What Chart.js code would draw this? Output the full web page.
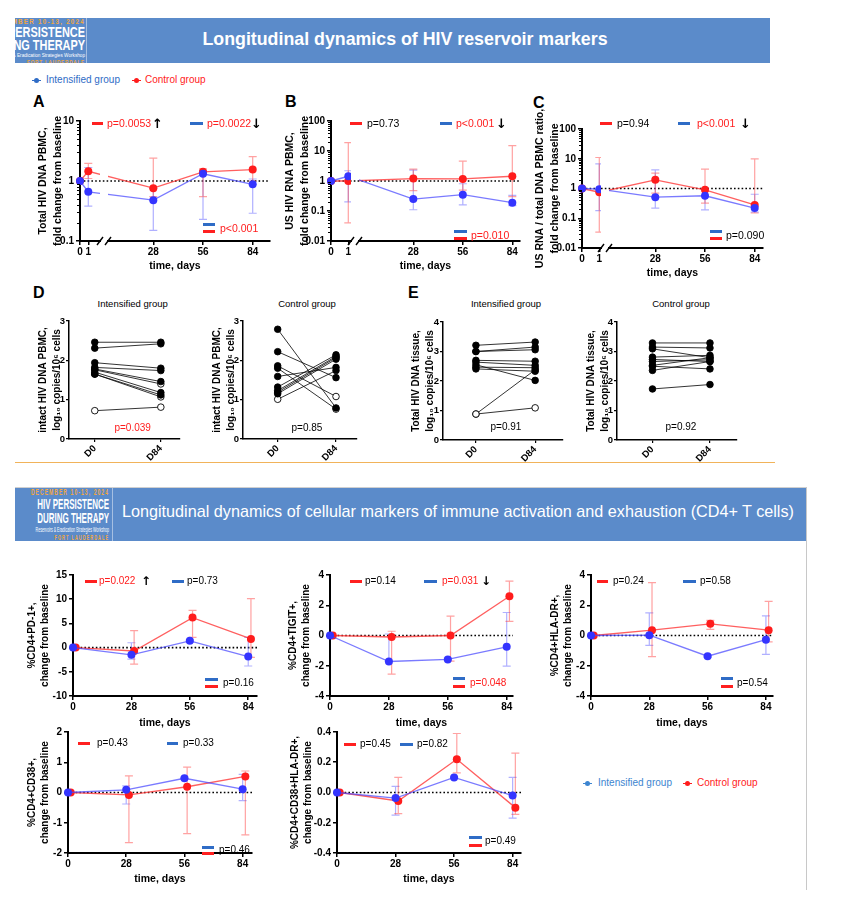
<!DOCTYPE html>
<html>
<head>
<meta charset="utf-8">
<title>HIV reservoir markers</title>
<script src="https://cdn.jsdelivr.net/npm/chart.js@4.4.1/dist/chart.umd.min.js"></script>
<style>
html,body{margin:0;padding:0;background:#fff;}
body{position:relative;width:857px;height:906px;overflow:hidden;font-family:'Liberation Sans',Arial,Helvetica,sans-serif;}
.a{position:absolute;white-space:nowrap;line-height:1;}
.t{transform:translateY(-50%);}
.tc{transform:translate(-50%,-50%);}
canvas{position:absolute;}
.box{position:absolute;}
.logo{position:absolute;overflow:hidden;}
.logo .in{position:absolute;text-align:right;white-space:nowrap;transform-origin:right top;}
.logo .or{color:#f2a640;font-weight:bold;}
.logo .wh{color:#fff;font-weight:bold;}
.logo .sm{color:#fff;}
</style>
</head>
<body>

<!-- top banner -->
<div class="box" style="left:15px;top:18px;width:755px;height:45px;background:#5b8bca;"></div>
<div class="logo" style="left:15px;top:18px;width:71px;height:45px;">
  <div class="in" style="right:1px;top:0px;transform:scaleX(0.78);">
    <div class="or" style="font-size:8px;letter-spacing:1.6px;line-height:8px;">DECEMBER 10-13, 2024</div>
    <div class="wh" style="font-size:14px;line-height:13px;">HIV PERSISTENCE</div>
    <div class="wh" style="font-size:14px;line-height:13px;">DURING THERAPY</div>
    <div class="sm" style="font-size:6px;line-height:7px;">Reservoirs &amp; Eradication Strategies Workshop</div>
    <div class="or" style="font-size:6px;letter-spacing:1px;line-height:6px;">FORT LAUDERDALE</div>
  </div>
</div>
<div class="box" style="left:86px;top:18px;width:1px;height:45px;background:rgba(255,255,255,0.45);"></div>
<div class="a tc" style="left:405px;top:40px;color:#fff;font-size:17.8px;font-weight:bold;">Longitudinal dynamics of HIV reservoir markers</div>

<!-- orange divider -->
<div class="box" style="left:15px;top:462px;width:760px;height:1px;background:#f1b35a;"></div>

<!-- second banner -->
<div class="box" style="left:15px;top:487px;width:791px;height:1px;background:#d0d0d0;"></div>
<div class="box" style="left:806px;top:487px;width:1px;height:403px;background:#c8c8c8;"></div>
<div class="box" style="left:15px;top:488px;width:791px;height:53px;background:#5b8bca;"></div>
<div class="logo" style="left:15px;top:488px;width:97px;height:53px;">
  <div class="in" style="right:3px;top:0px;transform:scaleX(0.55);">
    <div class="or" style="font-size:9px;letter-spacing:2px;line-height:9px;">DECEMBER 10-13, 2024</div>
    <div class="wh" style="font-size:14.5px;line-height:14px;">HIV PERSISTENCE</div>
    <div class="wh" style="font-size:14.5px;line-height:14px;">DURING THERAPY</div>
    <div class="sm" style="font-size:6.5px;line-height:9px;">Reservoirs &amp; Eradication Strategies Workshop</div>
    <div class="or" style="font-size:7px;letter-spacing:2px;line-height:7px;">FORT LAUDERDALE</div>
  </div>
</div>
<div class="box" style="left:112px;top:488px;width:1px;height:53px;background:rgba(255,255,255,0.45);"></div>
<div class="a t" style="left:122px;top:511px;color:#fff;font-size:16.2px;">Longitudinal dynamics of cellular markers of immune activation and exhaustion (CD4+ T cells)</div>

<script>
// ===================== DATA =====================
const reservoirDays = [0, 1, 28, 56, 84];
const cellDays = [0, 28, 56, 84];

// A: Total HIV DNA PBMC, fold change from baseline
const dnaIntMedian = [1, 0.66, 0.48, 1.32, 0.88];
const dnaIntLow    = [null, 0.38, 0.15, 0.23, 0.29];
const dnaIntHigh   = [null, 1.68, 0.75, 1.5, 1.08];
const dnaCtrlMedian = [1, 1.45, 0.76, 1.42, 1.55];
const dnaCtrlLow    = [null, 1.1, 0.55, 0.55, 1.0];
const dnaCtrlHigh   = [null, 1.97, 2.4, 1.6, 2.55];

// B: US HIV RNA PBMC, fold change
const rnaIntMedian = [1, 1.44, 0.25, 0.35, 0.19];
const rnaIntLow    = [null, 0.2, 0.11, 0.16, 0.15];
const rnaIntHigh   = [null, 2.2, 2.3, 0.81, 0.33];
const rnaCtrlMedian = [1, 1.0, 1.2, 1.17, 1.44];
const rnaCtrlLow    = [null, 0.04, 0.48, 0.5, 0.3];
const rnaCtrlHigh   = [null, 19, 2.5, 4.6, 15];

// C: US RNA / total DNA ratio, fold change
const ratioIntMedian = [1, 0.95, 0.51, 0.57, 0.22];
const ratioIntLow    = [null, 0.18, 0.22, 0.19, 0.16];
const ratioIntHigh   = [null, 6.7, 4.2, 0.95, 0.64];
const ratioCtrlMedian = [1, 0.75, 1.96, 0.9, 0.28];
const ratioCtrlLow    = [null, 0.034, 0.7, 0.32, 0.15];
const ratioCtrlHigh   = [null, 11, 3.3, 4.5, 9.9];

// D: intact HIV DNA PBMC, log10 copies/10^6 cells (paired D0 -> D84)
const intactIntD0  = [2.46, 2.31, 1.94, 1.82, 1.78, 1.76, 1.70, 1.65, 1.65, 0.72];
const intactIntD84 = [2.46, 2.42, 1.80, 1.74, 1.46, 1.40, 1.18, 1.12, 1.07, 0.81];
const intactIntOpenD0  = [0, 0, 0, 0, 0, 0, 0, 0, 0, 1];
const intactIntOpenD84 = [0, 0, 0, 0, 0, 1, 0, 0, 1, 1];
const intactCtrlD0  = [2.79, 2.22, 1.86, 1.80, 1.59, 1.32, 1.23, 1.19, 1.15, 1.01];
const intactCtrlD84 = [0.79, 1.56, 1.08, 0.76, 1.82, 2.14, 2.10, 2.07, 2.03, 1.74];
const intactCtrlOpenD0  = [0, 0, 0, 0, 0, 0, 0, 0, 0, 1];
const intactCtrlOpenD84 = [0, 0, 1, 1, 0, 0, 0, 0, 0, 0];

// E: total HIV DNA tissue
const tissueIntD0  = [3.21, 3.00, 3.00, 2.70, 2.64, 2.55, 2.47, 2.41, 0.88, 0.88];
const tissueIntD84 = [3.32, 3.15, 3.06, 2.67, 2.53, 2.02, 2.45, 2.33, 2.38, 1.09];
const tissueIntOpenD0  = [0, 0, 0, 0, 0, 0, 0, 0, 1, 1];
const tissueIntOpenD84 = [0, 0, 0, 0, 0, 0, 0, 0, 0, 1];
const tissueCtrlD0  = [3.29, 3.15, 3.09, 2.81, 2.73, 2.66, 2.53, 2.36, 2.50, 1.73];
const tissueCtrlD84 = [3.29, 3.12, 2.79, 2.87, 2.66, 2.72, 2.79, 2.66, 2.41, 1.88];
const tissueCtrlOpenD0  = [0, 0, 0, 0, 0, 0, 0, 0, 0, 0];
const tissueCtrlOpenD84 = [0, 0, 0, 0, 0, 0, 0, 0, 0, 0];

// F: %CD4+PD-1+ change from baseline
const pd1IntMedian = [0, -1.5, 1.4, -1.85];
const pd1IntLow    = [null, -2.4, 1.2, -3.8];
const pd1IntHigh   = [null, 1.0, 1.6, 2.1];
const pd1CtrlMedian = [0, -0.7, 6.2, 1.8];
const pd1CtrlLow    = [null, -3.4, 2.1, -2.0];
const pd1CtrlHigh   = [null, 3.5, 7.7, 10.1];

// G: %CD4+TIGIT+
const tigitIntMedian = [0, -1.72, -1.58, -0.75];
const tigitIntLow    = [null, -1.72, -1.65, -2.02];
const tigitIntHigh   = [null, 0.1, -1.5, 1.52];
const tigitCtrlMedian = [0, -0.1, 0.0, 2.6];
const tigitCtrlLow    = [null, -2.55, -1.7, 0.93];
const tigitCtrlHigh   = [null, 0.28, 1.28, 3.6];

// H: %CD4+HLA-DR+
const hladrIntMedian = [0, 0.02, -1.37, -0.28];
const hladrIntLow    = [null, -0.65, -1.45, -1.25];
const hladrIntHigh   = [null, 1.5, -1.3, 1.3];
const hladrCtrlMedian = [0, 0.35, 0.77, 0.35];
const hladrCtrlLow    = [null, -1.4, 0.4, -0.42];
const hladrCtrlHigh   = [null, 3.5, 1.0, 2.25];

// I: %CD4+CD38+
const cd38IntMedian = [0, 0.09, 0.47, 0.11];
const cd38IntLow    = [null, -0.38, 0.44, -0.27];
const cd38IntHigh   = [null, 0.22, 0.5, 0.6];
const cd38CtrlMedian = [0, -0.08, 0.19, 0.53];
const cd38CtrlLow    = [null, -1.66, -1.36, -1.4];
const cd38CtrlHigh   = [null, 0.55, 0.84, 0.71];

// J: %CD4+CD38+HLA-DR+
const dpIntMedian = [0, -0.037, 0.1, -0.02];
const dpIntLow    = [null, -0.15, 0.095, -0.17];
const dpIntHigh   = [null, 0.04, 0.105, 0.1];
const dpCtrlMedian = [0, -0.056, 0.22, -0.1];
const dpCtrlLow    = [null, -0.14, 0.13, -0.145];
const dpCtrlHigh   = [null, 0.1, 0.39, 0.26];

// tick labels
const logTicks2 = [0.1, 1, 10];
const logTicks4 = [0.01, 0.1, 1, 10, 100];
const pd1Ticks = [-10, -5, 0, 5, 10, 15];
const fourTicks = [-4, -2, 0, 2, 4];
const twoTicks = [-2, -1, 0, 1, 2];
const dpTicks = [-0.4, -0.2, 0, 0.2, 0.4];
const pairedTicks3 = [0, 1, 2, 3];
const pairedTicks4 = [0, 1, 2, 3, 4];
const pairedLabels = ['D0', 'D84'];

// ===================== STYLE =====================
const FONT = "'Liberation Sans', Arial, Helvetica, sans-serif";
const RED = '#ff1c1c', BLUE = '#3434ff';
const RED_LINE = 'rgba(255,50,50,0.78)', BLUE_LINE = 'rgba(70,70,255,0.72)';
const RED_ERR = 'rgba(255,70,70,0.5)', BLUE_ERR = 'rgba(80,80,255,0.45)';
const DASH_RED = '#ff2020', DASH_BLUE = '#2f6cc6';
const CTRL_SHIFT = 1.3; // small horizontal nudge of control-group markers (bottom panels)

// ===================== HELPERS =====================
function text(x, y, s, o = {}) {
  const d = document.createElement('div');
  d.className = 'a ' + (o.center ? 'tc' : 't');
  d.style.left = x + 'px'; d.style.top = y + 'px';
  d.style.fontSize = (o.size || 10.5) + 'px';
  d.style.color = o.color || '#000';
  if (o.bold) d.style.fontWeight = 'bold';
  if (o.family) d.style.fontFamily = o.family;
  d.textContent = s;
  document.body.appendChild(d);
}
function dash(x1, x2, y, color) {
  const d = document.createElement('div');
  d.className = 'box';
  d.style.left = x1 + 'px'; d.style.top = (y - 1.5) + 'px';
  d.style.width = (x2 - x1) + 'px'; d.style.height = '3px';
  d.style.background = color;
  document.body.appendChild(d);
}
function marker(x, y, color) {
  const l = document.createElement('div');
  l.className = 'box';
  l.style.cssText = `left:${x - 4.5}px;top:${y - 0.5}px;width:9px;height:1.2px;background:${color};`;
  document.body.appendChild(l);
  const c = document.createElement('div');
  c.className = 'box';
  c.style.cssText = `left:${x - 2.5}px;top:${y - 2.5}px;width:5px;height:5px;border-radius:50%;background:${color};`;
  document.body.appendChild(c);
}
function makeCanvas(plot, m) {
  const c = document.createElement('canvas');
  const w = Math.round(plot.r - plot.l + m.L + m.R), h = Math.round(plot.b - plot.t + m.T + m.B);
  c.width = w; c.height = h;
  c.style.left = (plot.l - m.L) + 'px'; c.style.top = (plot.t - m.T) + 'px';
  c.style.width = w + 'px'; c.style.height = h + 'px';
  document.body.appendChild(c);
  return c;
}

function decoPlugin(o) {
  return {
    id: 'deco',
    beforeDatasetsDraw(chart) {
      const ctx = chart.ctx, ys = chart.scales.y, ca = chart.chartArea;
      if (o.ref != null) {
        const y = ys.getPixelForValue(o.ref);
        ctx.save(); ctx.strokeStyle = '#000'; ctx.lineWidth = 1.6; ctx.setLineDash([1.6, 2.2]);
        ctx.beginPath(); ctx.moveTo(ca.left, y); ctx.lineTo(ca.right, y); ctx.stroke(); ctx.restore();
      }
      chart.data.datasets.forEach((ds, i) => {
        if (!ds.errLo) return;
        const meta = chart.getDatasetMeta(i);
        ctx.save(); ctx.strokeStyle = ds.errColor; ctx.lineWidth = 1.2;
        meta.data.forEach((pt, j) => {
          const lo = ds.errLo[j], hi = ds.errHi[j];
          if (lo == null || hi == null) return;
          const y1 = ys.getPixelForValue(lo), y2 = ys.getPixelForValue(hi);
          ctx.beginPath();
          ctx.moveTo(pt.x, y1); ctx.lineTo(pt.x, y2);
          ctx.moveTo(pt.x - 4, y1); ctx.lineTo(pt.x + 4, y1);
          ctx.moveTo(pt.x - 4, y2); ctx.lineTo(pt.x + 4, y2);
          ctx.stroke();
        });
        ctx.restore();
      });
    },
    afterDatasetsDraw(chart) {
      if (!o.brk) return;
      const ctx = chart.ctx, xs = chart.scales.x, ys = chart.scales.y, ca = chart.chartArea;
      const x1 = xs.getPixelForValue(o.brk[0]), x2 = xs.getPixelForValue(o.brk[1]);
      ctx.save();
      ctx.fillStyle = '#fff';
      ctx.fillRect(x1, ca.top, x2 - x1, ca.bottom - ca.top - 2);
      ctx.beginPath(); ctx.rect(x1, ca.top, x2 - x1, ca.bottom - ca.top); ctx.clip();
      const y = ys.getPixelForValue(o.ref);
      ctx.strokeStyle = '#000'; ctx.lineWidth = 1.6; ctx.setLineDash([1.6, 2.2]);
      ctx.beginPath(); ctx.moveTo(ca.left, y); ctx.lineTo(ca.right, y); ctx.stroke();
      ctx.restore();
    },
    afterDraw(chart) {
      const ctx = chart.ctx, xs = chart.scales.x, ys = chart.scales.y, ca = chart.chartArea;
      if (o.yType === 'logarithmic') {
        ctx.save(); ctx.strokeStyle = '#000'; ctx.lineWidth = 1;
        const e0 = Math.round(Math.log10(o.yMin)), e1 = Math.round(Math.log10(o.yMax));
        for (let e = e0; e < e1; e++) {
          for (let k = 2; k <= 9; k++) {
            const y = Math.round(ys.getPixelForValue(k * Math.pow(10, e))) + 0.5;
            ctx.beginPath(); ctx.moveTo(ca.left - 3, y); ctx.lineTo(ca.left, y); ctx.stroke();
          }
        }
        ctx.restore();
      }
      if (o.brk) {
        const x1 = xs.getPixelForValue(o.brk[0]), x2 = xs.getPixelForValue(o.brk[1]);
        const y = ca.bottom;
        ctx.save();
        ctx.fillStyle = '#fff';
        ctx.fillRect(x1 + 1, y - 2, x2 - x1 - 2, 5);
        ctx.strokeStyle = '#000'; ctx.lineWidth = 1.4;
        [x1, x2].forEach(x => { ctx.beginPath(); ctx.moveTo(x - 3, y + 4); ctx.lineTo(x + 3, y - 4); ctx.stroke(); });
        ctx.restore();
      }
    }
  };
}

function seriesChart(o) {
  const c = makeCanvas(o.plot, o.m);
  const tickFont = {family: FONT, size: 10, weight: 'bold'};
  new Chart(c, {
    type: 'line',
    data: {
      datasets: o.series.map(s => ({
        data: s.x.map((xv, i) => ({x: xv, y: s.y[i]})),
        borderColor: s.line, borderWidth: 1.3, tension: 0, fill: false, clip: false,
        pointRadius: 4, pointHoverRadius: 4, pointBackgroundColor: s.color,
        pointBorderColor: s.color, pointBorderWidth: 0,
        errLo: s.lo, errHi: s.hi, errColor: s.err
      }))
    },
    options: {
      responsive: false, animation: false, devicePixelRatio: 1, events: [],
      layout: {padding: {left: 0, top: o.m.T, right: o.m.R, bottom: 0}},
      plugins: {legend: {display: false}, tooltip: {enabled: false}},
      scales: {
        x: {
          type: 'linear', min: o.xMin, max: o.xMax,
          afterBuildTicks: s => { s.ticks = o.xTicks.map(v => ({value: v})); },
          afterFit: s => { s.height = o.m.B; },
          ticks: {callback: o.xLabel, autoSkip: false, maxRotation: 0, minRotation: 0, padding: 1, color: '#000', font: tickFont},
          grid: {drawOnChartArea: false, tickLength: 4, color: '#000', lineWidth: 1.5},
          border: {color: '#000', width: 2},
          title: {display: true, text: 'time, days', color: '#000', font: {family: FONT, size: 10.5, weight: 'bold', lineHeight: 1.2}, padding: 0}
        },
        y: {
          type: o.yType, min: o.yMin, max: o.yMax,
          afterBuildTicks: s => { s.ticks = o.yTicks.map(v => ({value: v})); },
          afterFit: s => { s.width = o.m.L; },
          ticks: {callback: o.yLabel, autoSkip: false, padding: 2, color: '#000', font: tickFont},
          grid: {drawOnChartArea: false, tickLength: 4, color: '#000', lineWidth: 1.5},
          border: {color: '#000', width: 2},
          title: {display: true, text: o.yTitle, color: '#000', font: {family: FONT, size: o.ytSize, weight: 'bold', lineHeight: o.ytLH}, padding: 0}
        }
      }
    },
    plugins: [decoPlugin(o)]
  });
}

function pairedChart(o) {
  const c = makeCanvas(o.plot, o.m);
  const tickFont = {family: FONT, size: 9.5, weight: 'bold'};
  new Chart(c, {
    type: 'line',
    data: {
      datasets: o.d0.map((v, i) => ({
        data: [{x: 0, y: v}, {x: 1, y: o.d84[i]}],
        borderColor: '#000', borderWidth: 0.8, tension: 0, fill: false, clip: false,
        pointRadius: 3.3, pointHoverRadius: 3.3,
        pointBackgroundColor: [o.open0[i] ? '#fff' : '#000', o.open84[i] ? '#fff' : '#000'],
        pointBorderColor: '#000', pointBorderWidth: 0.9
      }))
    },
    options: {
      responsive: false, animation: false, devicePixelRatio: 1, events: [],
      layout: {padding: {left: 0, top: o.m.T, right: o.m.R, bottom: 0}},
      plugins: {legend: {display: false}, tooltip: {enabled: false}},
      scales: {
        x: {
          type: 'linear', min: o.xMin, max: o.xMax,
          afterBuildTicks: s => { s.ticks = [0, 1].map(v => ({value: v})); },
          afterFit: s => { s.height = o.m.B; },
          ticks: {callback: (v, i) => pairedLabels[i], autoSkip: false, maxRotation: 45, minRotation: 45, padding: 1, color: '#000', font: tickFont},
          grid: {drawOnChartArea: false, tickLength: 3, color: '#000', lineWidth: 1.2},
          border: {color: '#000', width: 1.5}
        },
        y: {
          type: 'linear', min: 0, max: o.yMax,
          afterBuildTicks: s => { s.ticks = o.yTicks.map(v => ({value: v})); },
          afterFit: s => { s.width = o.m.L; },
          ticks: {autoSkip: false, padding: 1, color: '#000', font: tickFont},
          grid: {drawOnChartArea: false, tickLength: 3, color: '#000', lineWidth: 1.2},
          border: {color: '#000', width: 1.5},
          title: {display: true, text: o.yTitle, color: '#000', font: {family: FONT, size: 10, weight: 'bold', lineHeight: 1.4}, padding: 0}
        }
      }
    }
  });
}

// ===================== TOP SECTION =====================
marker(36.5, 80, '#2f6cc6');
text(46, 80, 'Intensified group', {size: 10, color: '#2f6cc6'});
marker(136.5, 80, RED);
text(145, 80, 'Control group', {size: 10, color: RED});

text(33, 102, 'A', {size: 16, bold: true});
text(285, 102, 'B', {size: 16, bold: true});
text(533, 103, 'C', {size: 16, bold: true});
text(33, 293, 'D', {size: 16, bold: true});
text(408, 293, 'E', {size: 16, bold: true});

const posA = d => d <= 1 ? d * 8.3 : 23.6 + d * 1.775;
const posB = d => d <= 1 ? d * 17.3 : 32.8 + d * 1.768;
const posC = d => d <= 1 ? d * 17.3 : 23.6 + d * 1.775;
const dayLabel = (v, i) => String(reservoirDays[i]);
const logLabel = v => String(v);

function reservoirPanel(pos, cfg) {
  const xs = reservoirDays.map(pos);
  seriesChart(Object.assign({
    xMin: 0, xTicks: xs, xLabel: dayLabel, yType: 'logarithmic', yLabel: logLabel,
    ref: 1, ytSize: 10.5, ytLH: 1.45
  }, cfg, {
    series: [
      {x: xs, y: cfg.int[0], lo: cfg.int[1], hi: cfg.int[2], color: BLUE, line: BLUE_LINE, err: BLUE_ERR},
      {x: xs, y: cfg.ctrl[0], lo: cfg.ctrl[1], hi: cfg.ctrl[2], color: RED, line: RED_LINE, err: RED_ERR}
    ]
  }));
}

reservoirPanel(posA, {
  plot: {l: 80, t: 121, r: 270, b: 241}, m: {L: 45, T: 16, R: 10, B: 31},
  xMax: 190, brk: [20, 28], yMin: 0.1, yMax: 10, yTicks: logTicks2,
  yTitle: ['Total HIV DNA PBMC,', 'fold change from baseline'],
  int: [dnaIntMedian, dnaIntLow, dnaIntHigh], ctrl: [dnaCtrlMedian, dnaCtrlLow, dnaCtrlHigh]
});
reservoirPanel(posB, {
  plot: {l: 331, t: 121, r: 520, b: 241}, m: {L: 49, T: 16, R: 10, B: 31},
  xMax: 189, brk: [20, 28], yMin: 0.01, yMax: 100, yTicks: logTicks4,
  yTitle: ['US HIV RNA PBMC,', 'fold change from baseline'],
  int: [rnaIntMedian, rnaIntLow, rnaIntHigh], ctrl: [rnaCtrlMedian, rnaCtrlLow, rnaCtrlHigh]
});
reservoirPanel(posC, {
  plot: {l: 582, t: 129, r: 763, b: 248}, m: {L: 50, T: 40, R: 10, B: 31},
  xMax: 181, brk: [19, 27], yMin: 0.01, yMax: 100, yTicks: logTicks4,
  yTitle: ['US RNA / total DNA PBMC ratio,', 'fold change from baseline'],
  int: [ratioIntMedian, ratioIntLow, ratioIntHigh], ctrl: [ratioCtrlMedian, ratioCtrlLow, ratioCtrlHigh]
});

// annotations A
dash(92, 103, 123, DASH_RED); text(107, 123, 'p=0.0053', {color: RED}); text(152, 123, '↑', {size: 13, bold: true, family: 'DejaVu Sans'});
dash(190, 203, 123, DASH_BLUE); text(207, 123, 'p=0.0022', {color: RED}); text(251, 123, '↓', {size: 13, bold: true, family: 'DejaVu Sans'});
dash(203, 215, 224, DASH_BLUE); dash(203, 215, 231, DASH_RED); text(220, 228, 'p<0.001', {color: RED});
// annotations B
dash(350, 362, 123, DASH_RED); text(367, 123, 'p=0.73');
dash(440, 452, 123, DASH_BLUE); text(456, 123, 'p<0.001', {color: RED}); text(496, 123, '↓', {size: 13, bold: true, family: 'DejaVu Sans'});
dash(454, 467, 231, DASH_BLUE); dash(454, 467, 238, DASH_RED); text(471, 235, 'p=0.010', {color: RED});
// annotations C
dash(600, 612, 123, DASH_RED); text(617, 123, 'p=0.94');
dash(678, 690, 123, DASH_BLUE); text(697, 123, 'p<0.001', {color: RED}); text(740, 123, '↓', {size: 13, bold: true, family: 'DejaVu Sans'});
dash(710, 722, 231, DASH_BLUE); dash(710, 722, 238, DASH_RED); text(726, 235, 'p=0.090');

// D & E paired panels
const intactTitle = ['intact HIV DNA PBMC,', 'log₁₀ copies/10⁶ cells'];
const tissueTitle = ['Total HIV DNA tissue,', 'log₁₀ copies/10⁶ cells'];
pairedChart({plot: {l: 69, t: 321, r: 180, b: 439}, m: {L: 33, T: 8, R: 8, B: 30}, xMin: -0.39, xMax: 1.29,
  yMax: 3, yTicks: pairedTicks3, yTitle: intactTitle, d0: intactIntD0, d84: intactIntD84, open0: intactIntOpenD0, open84: intactIntOpenD84});
pairedChart({plot: {l: 243, t: 321, r: 357, b: 439}, m: {L: 33, T: 8, R: 8, B: 30}, xMin: -0.595, xMax: 1.36,
  yMax: 3, yTicks: pairedTicks3, yTitle: intactTitle, d0: intactCtrlD0, d84: intactCtrlD84, open0: intactCtrlOpenD0, open84: intactCtrlOpenD84});
pairedChart({plot: {l: 443, t: 321.5, r: 563, b: 439}, m: {L: 34, T: 8, R: 8, B: 30}, xMin: -0.556, xMax: 1.47,
  yMax: 4, yTicks: pairedTicks4, yTitle: tissueTitle, d0: tissueIntD0, d84: tissueIntD84, open0: tissueIntOpenD0, open84: tissueIntOpenD84});
pairedChart({plot: {l: 617, t: 321.5, r: 737, b: 439}, m: {L: 33, T: 8, R: 8, B: 30}, xMin: -0.617, xMax: 1.47,
  yMax: 4, yTicks: pairedTicks4, yTitle: tissueTitle, d0: tissueCtrlD0, d84: tissueCtrlD84, open0: tissueCtrlOpenD0, open84: tissueCtrlOpenD84});

text(132.7, 304, 'Intensified group', {size: 9.5, center: true});
text(307, 304, 'Control group', {size: 9.5, center: true});
text(506, 304, 'Intensified group', {size: 9.5, center: true});
text(681, 304, 'Control group', {size: 9.5, center: true});
text(132.7, 427.7, 'p=0.039', {size: 10, center: true, color: RED});
text(307, 427.7, 'p=0.85', {size: 10, center: true});
text(506, 426.7, 'p=0.91', {size: 10, center: true});
text(681, 426.7, 'p=0.92', {size: 10, center: true});

// ===================== BOTTOM SECTION =====================
const cellLabel = (v, i) => String(cellDays[i]);
function cellPanel(cfg) {
  const ctrlX = cellDays.map(d => d + CTRL_SHIFT);
  seriesChart(Object.assign({
    xMin: 0, xTicks: cellDays, xLabel: cellLabel, yType: 'linear', yLabel: v => String(v),
    ref: 0, ytSize: 10, ytLH: 1.3
  }, cfg, {
    series: [
      {x: cellDays, y: cfg.int[0], lo: cfg.int[1], hi: cfg.int[2], color: BLUE, line: BLUE_LINE, err: BLUE_ERR},
      {x: ctrlX, y: cfg.ctrl[0], lo: cfg.ctrl[1], hi: cfg.ctrl[2], color: RED, line: RED_LINE, err: RED_ERR}
    ]
  }));
}

cellPanel({plot: {l: 73, t: 575, r: 257, b: 696}, m: {L: 47, T: 10, R: 10, B: 33}, xMax: 88.2,
  yMin: -10, yMax: 15, yTicks: pd1Ticks, yTitle: ['%CD4+PD-1+,', 'change from baseline'],
  int: [pd1IntMedian, pd1IntLow, pd1IntHigh], ctrl: [pd1CtrlMedian, pd1CtrlLow, pd1CtrlHigh]});
cellPanel({plot: {l: 330, t: 575, r: 513, b: 696}, m: {L: 43, T: 10, R: 10, B: 33}, xMax: 87,
  yMin: -4, yMax: 4, yTicks: fourTicks, yTitle: ['%CD4+TIGIT+,', 'change from baseline'],
  int: [tigitIntMedian, tigitIntLow, tigitIntHigh], ctrl: [tigitCtrlMedian, tigitCtrlLow, tigitCtrlHigh]});
cellPanel({plot: {l: 591, t: 575, r: 773, b: 696}, m: {L: 42, T: 10, R: 10, B: 33}, xMax: 87.4,
  yMin: -4, yMax: 4, yTicks: fourTicks, yTitle: ['%CD4+HLA-DR+,', 'change from baseline'],
  int: [hladrIntMedian, hladrIntLow, hladrIntHigh], ctrl: [hladrCtrlMedian, hladrCtrlLow, hladrCtrlHigh]});
cellPanel({plot: {l: 68, t: 732, r: 252, b: 853}, m: {L: 42, T: 10, R: 10, B: 32}, xMax: 88.5,
  yMin: -2, yMax: 2, yTicks: twoTicks, yTitle: ['%CD4+CD38+,', 'change from baseline'],
  int: [cd38IntMedian, cd38IntLow, cd38IntHigh], ctrl: [cd38CtrlMedian, cd38CtrlLow, cd38CtrlHigh]});
cellPanel({plot: {l: 337, t: 732, r: 521, b: 853}, m: {L: 48, T: 10, R: 10, B: 32}, xMax: 88,
  yMin: -0.4, yMax: 0.4, yTicks: dpTicks, yLabel: v => v.toFixed(1), yTitle: ['%CD4+CD38+HLA-DR+,', 'change from baseline'],
  int: [dpIntMedian, dpIntLow, dpIntHigh], ctrl: [dpCtrlMedian, dpCtrlLow, dpCtrlHigh]});

// annotations bottom
dash(85, 97, 581, DASH_RED); text(99, 581, 'p=0.022', {size: 10, color: RED}); text(141, 581, '↑', {size: 12, bold: true, family: 'DejaVu Sans'});
dash(172, 184, 581, DASH_BLUE); text(187, 581, 'p=0.73', {size: 10});
dash(205, 218, 679, DASH_BLUE); dash(205, 218, 686, DASH_RED); text(223, 683, 'p=0.16', {size: 10});

dash(350, 362, 581, DASH_RED); text(365, 581, 'p=0.14', {size: 10});
dash(424, 437, 581, DASH_BLUE); text(442, 581, 'p=0.031', {size: 10, color: RED}); text(481, 581, '↓', {size: 12, bold: true, family: 'DejaVu Sans'});
dash(453, 465, 678, DASH_BLUE); dash(453, 465, 686, DASH_RED); text(470, 683, 'p=0.048', {size: 10, color: RED});

dash(597, 608, 581, DASH_RED); text(613, 581, 'p=0.24', {size: 10});
dash(683, 696, 581, DASH_BLUE); text(700, 581, 'p=0.58', {size: 10});
dash(721, 733, 678, DASH_BLUE); dash(721, 733, 686, DASH_RED); text(737, 683, 'p=0.54', {size: 10});

dash(78, 90, 743, DASH_RED); text(97, 743, 'p=0.43', {size: 10});
dash(167, 178, 743, DASH_BLUE); text(183, 743, 'p=0.33', {size: 10});
dash(202, 214, 847, DASH_BLUE); dash(202, 214, 853, DASH_RED); text(219, 850, 'p=0.46', {size: 10});

dash(344, 356, 744, DASH_RED); text(360, 744, 'p=0.45', {size: 10});
dash(400, 413, 744, DASH_BLUE); text(417, 744, 'p=0.82', {size: 10});
dash(469, 482, 837, DASH_BLUE); dash(469, 482, 845, DASH_RED); text(485, 841, 'p=0.49', {size: 10});

// bottom legend
marker(587, 783, '#3d85d0');
text(598, 783, 'Intensified group', {size: 10, color: '#3d85d0'});
marker(687, 783, RED);
text(697, 783, 'Control group', {size: 10, color: RED});
</script>
</body>
</html>
